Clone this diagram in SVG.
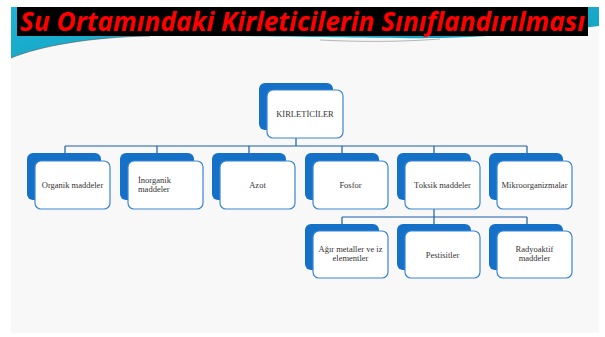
<svg xmlns="http://www.w3.org/2000/svg" width="605" height="337" viewBox="0 0 605 337">
<defs>
<linearGradient id="teal" x1="0" y1="0" x2="1" y2="1">
<stop offset="0" stop-color="#1fb3d9"/>
<stop offset="1" stop-color="#12a0b8"/>
</linearGradient>
</defs>
<style>
.back{fill:#1570c8;}
.front{fill:#ffffff;stroke:#3a86d2;stroke-width:1.2;}
.conn{stroke:#1a5fa8;stroke-width:1.2;fill:none;}
.lbl{font-family:"Liberation Serif",serif;font-size:8.5px;fill:#333333;text-anchor:middle;}
</style>
<rect x="0" y="0" width="605" height="337" fill="#ffffff"/>
<rect x="11" y="7" width="588" height="326" fill="#f8f8f8"/>
<path d="M11,7 L599,7 L599,26 C550,32 490,37 440,38 C380,39 250,35 150,36 C90,37 40,46 11,58 Z" fill="url(#teal)"/>
<path d="M11,58 C40,46 90,37 150,36" fill="none" stroke="#555" stroke-width="0.6"/>
<path d="M320,40 C360,42 400,42 440,39" fill="none" stroke="#888" stroke-width="1" opacity="0.6"/>
<rect x="17" y="7" width="571" height="29" fill="#000000"/>
<text x="20" y="31" font-family="'Open Sans',sans-serif" font-style="italic" font-weight="bold" font-size="27" fill="#ff0000" textLength="565" lengthAdjust="spacingAndGlyphs">Su Ortamındaki Kirleticilerin Sınıflandırılması</text>

<g id="connectors">
<path class="conn" d="M296,138 V146 M65,146 H527 M65,146 V153 M157,146 V153 M249,146 V153 M342,146 V153 M434,146 V153 M527,146 V153"/>
<path class="conn" d="M434,209 V217 M342,217 H527 M342,217 V224 M434,217 V224 M527,217 V224"/>
</g>

<g id="kirleticiler">
<rect class="back" x="259" y="83" width="74" height="47" rx="6"/>
<rect class="front" x="267" y="90" width="76" height="48" rx="6"/>
<text class="lbl" x="305" y="117">KİRLETİCİLER</text>
</g>

<g id="organik">
<rect class="back" x="27" y="153" width="74" height="47" rx="6"/>
<rect class="front" x="35" y="161" width="75" height="48" rx="6"/>
<text class="lbl" x="72.5" y="188">Organik maddeler</text>
</g>

<g id="inorganik">
<rect class="back" x="120" y="153" width="74" height="47" rx="6"/>
<rect class="front" x="128" y="161" width="75" height="48" rx="6"/>
<text class="lbl" x="138" y="183" style="text-anchor:start">İnorganik</text>
<text class="lbl" x="138" y="192" style="text-anchor:start">maddeler</text>
</g>

<g id="azot">
<rect class="back" x="212" y="153" width="74" height="47" rx="6"/>
<rect class="front" x="220" y="161" width="75" height="48" rx="6"/>
<text class="lbl" x="257.5" y="188">Azot</text>
</g>

<g id="fosfor">
<rect class="back" x="305" y="153" width="74" height="47" rx="6"/>
<rect class="front" x="313" y="161" width="75" height="48" rx="6"/>
<text class="lbl" x="350.5" y="188">Fosfor</text>
</g>

<g id="toksik">
<rect class="back" x="397" y="153" width="74" height="47" rx="6"/>
<rect class="front" x="405" y="161" width="75" height="48" rx="6"/>
<text class="lbl" x="442.5" y="188">Toksik maddeler</text>
</g>

<g id="mikro">
<rect class="back" x="489" y="153" width="74" height="47" rx="6"/>
<rect class="front" x="497" y="161" width="75" height="48" rx="6"/>
<text class="lbl" x="534.5" y="188">Mikroorganizmalar</text>
</g>

<g id="agir">
<rect class="back" x="305" y="224" width="74" height="46" rx="6"/>
<rect class="front" x="313" y="231" width="75" height="47" rx="6"/>
<text class="lbl" x="350.5" y="252">Ağır metaller ve iz</text>
<text class="lbl" x="350.5" y="261">elementler</text>
</g>

<g id="pestisit">
<rect class="back" x="397" y="224" width="74" height="46" rx="6"/>
<rect class="front" x="405" y="231" width="75" height="47" rx="6"/>
<text class="lbl" x="442.5" y="258">Pestisitler</text>
</g>

<g id="radyo">
<rect class="back" x="489" y="224" width="74" height="46" rx="6"/>
<rect class="front" x="497" y="231" width="75" height="47" rx="6"/>
<text class="lbl" x="534.5" y="252">Radyoaktif</text>
<text class="lbl" x="534.5" y="261">maddeler</text>
</g>
</svg>
